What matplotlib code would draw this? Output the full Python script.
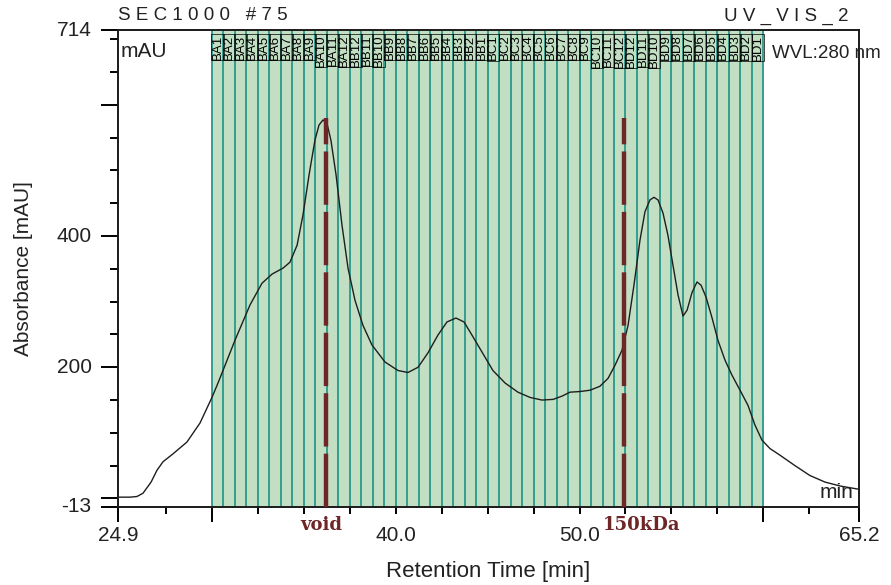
import matplotlib

matplotlib.use("Agg")
import matplotlib.pyplot as plt
import numpy as np

# chromatogram trace (time in min, absorbance in mAU)
time_min = [24.9, 25.55, 25.93, 26.26, 26.7, 27.02, 27.35, 27.89, 28.65, 29.36, 30.01,
            30.34, 31.26, 32.08, 32.73, 33.28, 33.87, 34.25, 34.64, 34.96, 35.29,
            35.61, 35.83, 36.05, 36.27, 36.48, 36.76, 37.08, 37.41, 37.79, 38.22,
            38.71, 39.42, 40.13, 40.67, 41.22, 41.76, 42.30, 42.79, 43.28, 43.72,
            44.15, 44.70, 45.29, 45.95, 46.65, 47.31, 47.96, 48.56, 49.05, 49.48,
            50.03, 50.57, 51.11, 51.55, 51.93, 52.31, 52.64, 52.96, 53.29, 53.56,
            53.83, 54.05, 54.27, 54.54, 54.81, 55.08, 55.36, 55.63, 55.85, 56.12,
            56.39, 56.61, 56.88, 57.21, 57.53, 57.91, 58.29, 58.73, 59.16, 59.54,
            59.92, 60.36, 60.90, 61.72, 62.53, 63.35, 64.17, 65.2]
absorbance = [2, 2, 3, 8, 25, 43, 56, 68, 86, 115, 154,
              176, 241, 295, 328, 342, 351, 360, 386, 432, 493,
              546, 569, 577, 571, 546, 493, 417, 351, 302, 264,
              234, 208, 195, 192, 200, 222, 249, 269, 275, 269,
              249, 223, 195, 176, 162, 154, 150, 151, 156, 162,
              163, 165, 171, 183, 203, 226, 264, 325, 394, 437,
              455, 459, 455, 435, 401, 356, 310, 278, 287, 314,
              330, 325, 307, 275, 241, 211, 188, 165, 142, 112,
              89, 76, 66, 50, 35, 25, 19, 14]

# fraction collection window
frac_start, frac_end, n_frac = 30.0, 60.0, 48
frac_labels = ([f"BA{i}" for i in range(1, 13)] + [f"BB{i}" for i in range(12, 0, -1)]
               + [f"BC{i}" for i in range(1, 13)] + [f"BD{i}" for i in range(12, 0, -1)])

# marker lines and where their captions sit
marker_times = [36.2, 52.4]
marker_labels = ["void", "150kDa"]
marker_label_x = [35.97, 53.35]
marker_top = 580

xlim = (24.9, 65.2)
ylim = (-13, 714)

SANS = "Liberation Sans"
TXT = "#222222"
BROWN = "#6e2626"

fig = plt.figure(figsize=(8.91, 5.85), dpi=100)
ax = fig.add_axes([118 / 891, 1 - 507 / 585, 741 / 891, 477 / 585])
ax.set_xlim(*xlim)
ax.set_ylim(*ylim)

# fractions: green band with teal separators
edges = np.linspace(frac_start, frac_end, n_frac + 1)
ax.axvspan(frac_start, frac_end, color="#c2dfc3", zorder=0, lw=0)
ax.vlines(edges, ylim[0], ylim[1], color="#2a978a", lw=1.3, zorder=1)
centers = (edges[:-1] + edges[1:]) / 2
for c, lab in zip(centers, frac_labels):
    ax.text(c, ylim[1] - 7, lab, rotation=90, ha="center", va="top",
            fontsize=9.5, family=SANS, color="black", zorder=2,
            bbox=dict(facecolor="none", edgecolor="black", lw=0.5, pad=0.1))

ax.plot(time_min, absorbance, color="#1e1e1e", lw=1.0, zorder=3)

for t, lx, lab in zip(marker_times, marker_label_x, marker_labels):
    ax.plot([t, t], [ylim[0], marker_top], color=BROWN, lw=3.2,
            linestyle=(0, (12, 1.6)), zorder=4)
    ax.text(lx, -0.037, lab, transform=ax.get_xaxis_transform(), ha="center",
            va="center", fontsize=13, family="DejaVu Serif", weight="bold",
            color=BROWN)

for s in ax.spines.values():
    s.set_linewidth(1.4)
    s.set_color("#1a1a1a")

# x ticks
xmaj = [24.9, 30.0, 40.0, 50.0, 60.0, 65.2]
xmaj_lab = ["24.9", "", "40.0", "50.0", "", "65.2"]
xmin = [27.5, 32.5, 35.0, 37.5, 42.5, 45.0, 47.5, 52.5, 55.0, 57.5, 62.5]
ax.set_xticks(xmaj)
ax.set_xticklabels(xmaj_lab)
ax.set_xticks(xmin, minor=True)
ax.tick_params(axis="x", which="major", length=5, width=1.4, pad=9,
               labelsize=15, labelcolor=TXT)
ax.tick_params(axis="x", which="minor", length=5, width=1.4)
for tk, v in zip(ax.xaxis.get_major_ticks(), xmaj):
    if v in (24.9, 30.0, 60.0, 65.2):
        tk.tick1line.set_markersize(11)
for lab in ax.get_xticklabels():
    lab.set_family(SANS)

# y ticks
ymaj = [-13, 0, 200, 400, 600, 714]
ymaj_lab = ["-13", "", "200", "400", "", "714"]
ymin = [50, 100, 150, 250, 300, 350, 450, 500, 550, 650, 700]
ax.set_yticks(ymaj)
ax.set_yticklabels(ymaj_lab)
ax.set_yticks(ymin, minor=True)
ax.tick_params(axis="y", which="major", length=12, width=1.4, pad=7,
               labelsize=15, labelcolor=TXT)
ax.tick_params(axis="y", which="minor", length=6, width=1.4)
for lab in ax.get_yticklabels():
    lab.set_family(SANS)
    lab.set_verticalalignment("center")

ax.set_xlabel("Retention Time [min]", fontsize=16, family=SANS, color=TXT, labelpad=11)
ax.set_ylabel("Absorbance [mAU]", fontsize=15, family=SANS, color=TXT, labelpad=17)

# header / corner texts
fig.text(118 / 891, 1 - 16 / 585, "S E C 1 0 0 0   # 7 5", fontsize=13.5, family=SANS,
         color=TXT, va="center", ha="left")
fig.text(848 / 891, 1 - 16 / 585, "U V _ V I S _ 2", fontsize=13.5, family=SANS,
         color=TXT, va="center", ha="right")
ax.text(0.003, 0.975, "mAU", transform=ax.transAxes, fontsize=15, family=SANS,
        color=TXT, va="top", ha="left")
ax.text(0.882, 0.968, "WVL:280 nm", transform=ax.transAxes, fontsize=13.5, family=SANS,
        color=TXT, va="top", ha="left", clip_on=False)
ax.text(0.992, 0.01, "min", transform=ax.transAxes, fontsize=15, family=SANS,
        color=TXT, va="bottom", ha="right")

fig.savefig("out.png", dpi=100)
